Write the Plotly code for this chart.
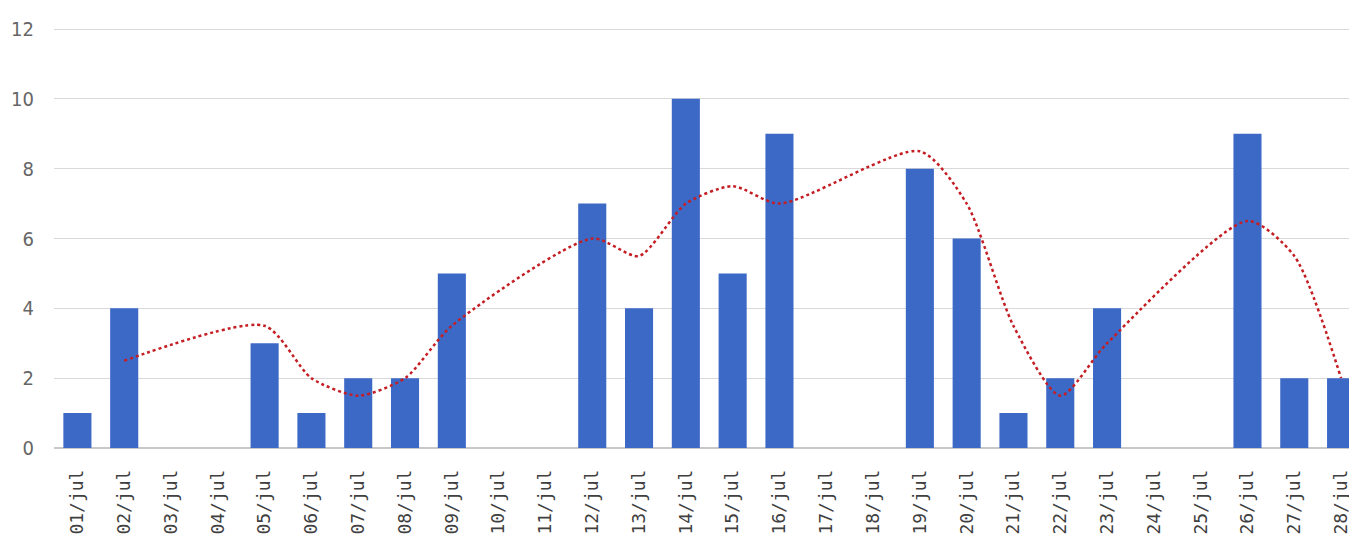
import plotly.graph_objects as go

days = ["01/jul", "02/jul", "03/jul", "04/jul", "05/jul", "06/jul", "07/jul", "08/jul", "09/jul", "10/jul",
        "11/jul", "12/jul", "13/jul", "14/jul", "15/jul", "16/jul", "17/jul", "18/jul", "19/jul", "20/jul",
        "21/jul", "22/jul", "23/jul", "24/jul", "25/jul", "26/jul", "27/jul", "28/jul"]
counts = [1, 4, 0, 0, 3, 1, 2, 2, 5, 0, 0, 7, 4, 10, 5, 9, 0, 0, 8, 6, 1, 2, 4, 0, 0, 9, 2, 2]
trend = [None, 2.5, None, None, 3.5, 2, 1.5, 2, 3.5, None, None, 6, 5.5, 7, 7.5, 7, None, None,
         8.5, 7, 3.5, 1.5, 3, None, None, 6.5, 5.5, 2]
y_ticks = [0, 2, 4, 6, 8, 10, 12]

fig = go.Figure()
fig.add_trace(go.Bar(
    x=days, y=counts,
    marker=dict(color="#3C68C6", line=dict(width=0)),
    width=0.6,
))
fig.add_trace(go.Scatter(
    x=days, y=trend, mode="lines", connectgaps=True,
    line=dict(color="#C41E24", width=2.5, dash="dot", shape="spline", smoothing=0.7),
))

fig.update_layout(
    width=1357, height=543,
    margin=dict(l=46, r=8, t=20, b=103),
    plot_bgcolor="white", paper_bgcolor="white",
    showlegend=False,
    font=dict(family="DejaVu Sans Condensed, DejaVu Sans", color="#595959"),
    xaxis=dict(
        tickangle=-90, tickfont=dict(size=18, color="#404040", family="DejaVu Sans Mono"),
        showgrid=False, showline=False, ticks="", automargin=False,
        range=[-0.5, 27.34], ticklabelstandoff=17,
    ),
    yaxis=dict(
        range=[0, 12.03], tickvals=y_ticks, tickfont=dict(size=20, color="#666666"),
        showgrid=True, gridcolor="#D9D9D9", gridwidth=1,
        zeroline=True, zerolinecolor="#C8C8C8", zerolinewidth=2,
        showline=False, ticks="", ticklabelstandoff=19, automargin=False,
    ),
)

fig.write_html("out.html")
